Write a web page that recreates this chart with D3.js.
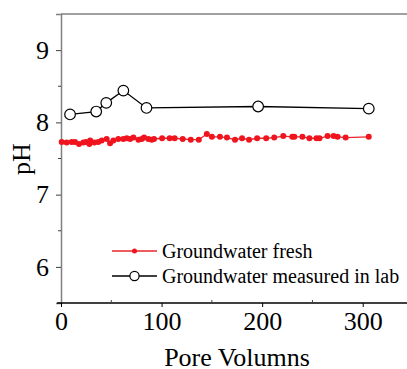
<!DOCTYPE html>
<html>
<head>
<meta charset="UTF-8">
<script src="https://d3js.org/d3.v7.min.js"></script>
</head>
<body style="margin:0">
<script>
// groundwater fresh (red filled dots)
const freshX = [0.7, 5.6, 10.6, 13.9, 17.9, 22.2, 24.9, 28.2, 29, 33.2, 37.1, 40.5, 45.4, 48.8, 52.1, 57, 62, 65.4, 68.7, 72, 77, 80.3, 82.6, 86.9, 90.2, 92.5,
  100.5, 108, 113, 121, 129, 137, 145, 150, 158, 165, 173, 180, 187, 195, 204, 212, 221, 230, 232, 240, 247, 254, 257, 265, 271, 275, 283, 306];
const freshPH = [7.73, 7.72, 7.73, 7.73, 7.70, 7.72, 7.73, 7.70, 7.75, 7.72, 7.73, 7.75, 7.77, 7.71, 7.75, 7.77, 7.77, 7.78, 7.77, 7.79, 7.76, 7.77, 7.79, 7.77, 7.76, 7.77,
  7.78, 7.78, 7.78, 7.77, 7.76, 7.76, 7.84, 7.80, 7.80, 7.79, 7.76, 7.78, 7.76, 7.78, 7.78, 7.79, 7.81, 7.80, 7.80, 7.80, 7.78, 7.78, 7.78, 7.81, 7.81, 7.80, 7.79, 7.80];

// groundwater measured in lab (black open circles)
const labX = [9, 35, 45, 62, 85, 196, 306];
const labPH = [8.11, 8.15, 8.27, 8.44, 8.20, 8.22, 8.19];

const xTicks = [0, 100, 200, 300];
const yTicks = [6, 7, 8, 9];
const seriesNames = ["Groundwater fresh", "Groundwater measured in lab"];

const FONT = "Liberation Serif";
const W = 407, H = 369;
const svg = d3.select("body").append("svg").attr("width", W).attr("height", H);

const x = d3.scaleLinear().domain([0, 346]).range([61, 409]);
const y = d3.scaleLinear().domain([5.5, 9.5]).range([303, 14]);

// frame top
svg.append("line").attr("x1", 61).attr("x2", W).attr("y1", 14).attr("y2", 14)
  .attr("stroke", "#808080").attr("stroke-width", 1.5);

// left axis (gray)
const yAxis = svg.append("g").attr("transform", "translate(61,0)")
  .call(d3.axisLeft(y).tickValues(yTicks).tickSize(5).tickPadding(7).tickFormat(d3.format("d")));
yAxis.attr("font-family", FONT);
yAxis.select(".domain").attr("stroke", "#808080").attr("stroke-width", 1.5);
yAxis.selectAll(".tick line").attr("stroke", "#404040");
yAxis.selectAll("text").attr("font-size", 26).attr("fill", "#000").attr("font-family", FONT)
  .style("font-family", FONT);
yAxis.selectAll(".minor").data([6.5, 7.5, 8.5]).enter().append("line")
  .attr("x1", -3).attr("x2", 0).attr("y1", d => y(d)).attr("y2", d => y(d))
  .attr("stroke", "#404040");

// bottom axis (black)
const xAxis = svg.append("g").attr("transform", "translate(0,303)")
  .call(d3.axisBottom(x).tickValues(xTicks).tickSizeInner(4).tickSizeOuter(0).tickPadding(5));
xAxis.attr("font-family", FONT);
xAxis.select(".domain").attr("d", `M57,0H${W}`).attr("stroke", "#000").attr("stroke-width", 1.3);
xAxis.selectAll("text").attr("font-size", 26).attr("fill", "#000").attr("font-family", FONT)
  .style("font-family", FONT);
xAxis.selectAll(".minor").data([50, 150, 250]).enter().append("line")
  .attr("x1", d => x(d)).attr("x2", d => x(d)).attr("y1", 0).attr("y2", -3)
  .attr("stroke", "#404040");

// axis titles (bottom one is clipped by the window edge, as in the original)
svg.append("text").attr("x", 237).attr("y", 366).attr("text-anchor", "middle")
  .attr("font-family", FONT).style("font-family", FONT).attr("font-size", 26).text("Pore Volumns");
svg.append("text").attr("transform", "translate(30,159) rotate(-90)")
  .attr("text-anchor", "middle").attr("font-family", FONT).style("font-family", FONT)
  .attr("font-size", 26).text("pH");

// series
const fresh = freshX.map((v, i) => [v, freshPH[i]]);
const lab = labX.map((v, i) => [v, labPH[i]]);
const line = d3.line().x(d => x(d[0])).y(d => y(d[1]));

svg.append("path").datum(fresh).attr("d", line).attr("fill", "none")
  .attr("stroke", "#e8262b").attr("stroke-width", 1.3);
svg.append("g").selectAll("circle").data(fresh).enter().append("circle")
  .attr("cx", d => x(d[0])).attr("cy", d => y(d[1])).attr("r", 3)
  .attr("fill", "#f0141e");

svg.append("path").datum(lab).attr("d", line).attr("fill", "none")
  .attr("stroke", "#000").attr("stroke-width", 1.3);
svg.append("g").selectAll("circle").data(lab).enter().append("circle")
  .attr("cx", d => x(d[0])).attr("cy", d => y(d[1])).attr("r", 5.3)
  .attr("fill", "#fff").attr("stroke", "#000").attr("stroke-width", 1.2);

// legend
const legend = svg.append("g");
const rows = [
  { name: seriesNames[0], y: 251, color: "#e8262b", open: false },
  { name: seriesNames[1], y: 276, color: "#000", open: true }
];
rows.forEach(r => {
  legend.append("line").attr("x1", 112).attr("x2", 157).attr("y1", r.y).attr("y2", r.y)
    .attr("stroke", r.color).attr("stroke-width", 1.3);
  if (r.open) {
    legend.append("circle").attr("cx", 134.5).attr("cy", r.y).attr("r", 4.6)
      .attr("fill", "#fff").attr("stroke", "#000").attr("stroke-width", 1.2);
  } else {
    legend.append("circle").attr("cx", 134.5).attr("cy", r.y).attr("r", 2.5)
      .attr("fill", "#f0141e");
  }
  legend.append("text").attr("x", 162).attr("y", r.y + 7).attr("font-family", FONT)
    .style("font-family", FONT).attr("font-size", 20).text(r.name);
});
</script>
</body>
</html>
